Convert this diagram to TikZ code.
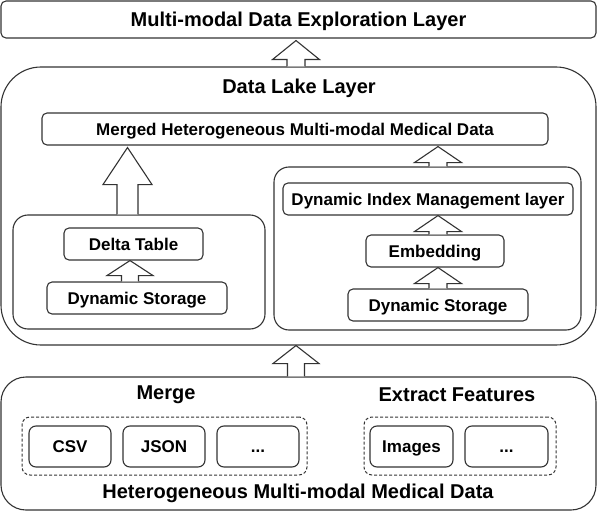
\documentclass[tikz,border=0pt]{standalone}
\usepackage{fontspec}
\setmainfont{Liberation Sans}
\usetikzlibrary{calc}
\tikzset{
  ln/.style={draw=black!80, line width=1.1pt},
  box/.style={ln, rounded corners=5pt, inner sep=0pt, text height=12.2pt, text depth=0pt, font=\bfseries\fontsize{17}{20}\selectfont},
  ttl/.style={inner sep=0pt, font=\bfseries\fontsize{20}{24}\selectfont},
  grp/.style={ln, inner sep=0pt},
  dgrp/.style={draw=black!80, line width=1pt, dash pattern=on 3pt off 2pt, rounded corners=8pt, inner sep=0pt},
  arr/.style={ln, fill=white, line join=miter},
}
\newcommand\blockarr[5]{%
  \draw[arr] let \p1=(#1), \p2=(#2) in
    (\x1-#3pt,\y1) -- (\x1-#3pt,\y2-#5pt) -- (\x1-#4pt,\y2-#5pt) -- (\x1,\y2)
    -- (\x1+#4pt,\y2-#5pt) -- (\x1+#3pt,\y2-#5pt) -- (\x1+#3pt,\y1);}
\begin{document}
\begin{tikzpicture}[x=1pt,y=-1pt]
\useasboundingbox (0,0) rectangle (597,511);
% top layer
\node[box, minimum width=595pt, minimum height=37pt, text height=14.4pt, font=\bfseries\fontsize{20}{24}\selectfont] (top) at (298.5,19.5) {Multi-modal Data Exploration Layer};
% data lake
\node[grp, rounded corners=40pt, minimum width=595pt, minimum height=278pt] (lake) at (298.5,206) {};
\node[ttl] (laket) at (299,88) {Data Lake Layer};
\node[box, minimum width=506pt, minimum height=32pt] (merged) at (295,129) {Merged Heterogeneous Multi-modal Medical Data};
% left inner
\node[grp, rounded corners=15pt, minimum width=252pt, minimum height=114pt] (left) at (139,272) {};
\node[box, minimum width=139pt, minimum height=32pt] (delta) at (133.5,244) {Delta Table};
\node[box, minimum width=180pt, minimum height=32pt] (dsl) at (137,298) {Dynamic Storage};
% right inner
\node[grp, rounded corners=15pt, minimum width=307pt, minimum height=163pt] (right) at (427.5,248.5) {};
\node[box, minimum width=290pt, minimum height=32pt] (dim) at (428,199) {Dynamic Index Management layer};
\node[box, minimum width=138pt, minimum height=32pt] (emb) at (435,251) {Embedding};
\node[box, minimum width=180pt, minimum height=32pt] (dsr) at (438,305) {Dynamic Storage};
% bottom layer
\node[grp, rounded corners=25pt, minimum width=595pt, minimum height=133pt] (bot) at (298.5,443.5) {};
\node[ttl] (merge) at (166,395) {Merge};
\node[ttl] (extract) at (457,395) {Extract Features};
\node[dgrp, minimum width=285pt, minimum height=58pt] (dl) at (164.5,446) {};
\node[box, rounded corners=7pt, minimum width=82pt, minimum height=41pt] (csv) at (70,446.5) {CSV};
\node[box, rounded corners=7pt, minimum width=82pt, minimum height=41pt] (json) at (164,446.5) {JSON};
\node[box, rounded corners=7pt, minimum width=82pt, minimum height=41pt] (dots1) at (258,446.5) {...};
\node[dgrp, minimum width=192pt, minimum height=58pt] (dr) at (460,446) {};
\node[box, rounded corners=7pt, minimum width=83pt, minimum height=41pt] (img) at (411.5,446.5) {Images};
\node[box, rounded corners=7pt, minimum width=83pt, minimum height=41pt] (dots2) at (506.5,446.5) {...};
\node[ttl] (het) at (298,493) {Heterogeneous Multi-modal Medical Data};
% arrows
\coordinate (xa) at (296,0);
\coordinate (xb) at (127.5,0);
\coordinate (xc) at (438,0);
\coordinate (xd) at (130,0);
\blockarr{xa |- lake.north}{$(xa |- top.south)+(0,2)$}{9}{23.5}{19}
\blockarr{xb |- left.north}{$(xb |- merged.south)+(0,2)$}{10.5}{24.5}{37}
\blockarr{xc |- right.north}{$(xc |- merged.south)+(0,1)$}{9}{23.5}{16}
\blockarr{xc |- emb.north}{xc |- dim.south}{9}{23.5}{16}
\blockarr{xc |- dsr.north}{xc |- emb.south}{9}{23.5}{16}
\blockarr{xd |- dsl.north}{xd |- delta.south}{8.5}{23}{15}
\blockarr{xa |- bot.north}{xa |- lake.south}{8.5}{23}{18}
\end{tikzpicture}
\end{document}
